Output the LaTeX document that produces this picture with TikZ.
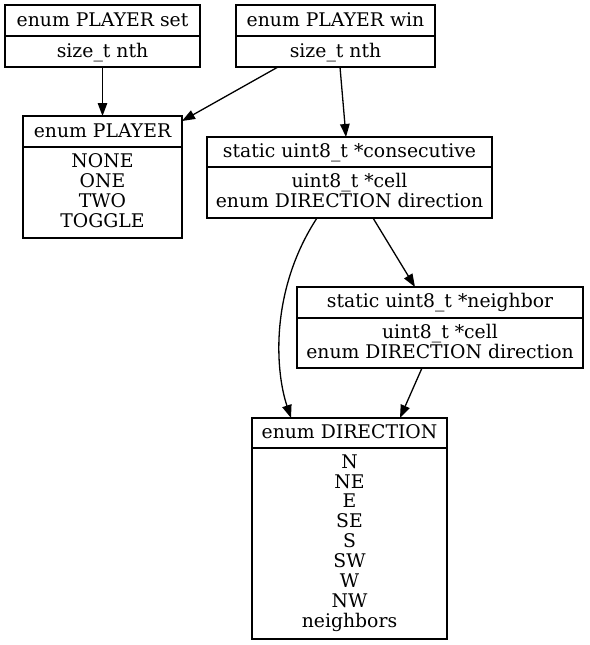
\documentclass[tikz,border=0pt]{standalone}
\usepackage{fontspec}
\setmainfont{DejaVu Serif}
\usetikzlibrary{arrows.meta}
\newcommand{\lns}[1]{\begin{tabular}[t]{@{}c@{}}#1\end{tabular}}
\begin{document}
\begin{tikzpicture}[x=1pt,y=-1pt,
  box/.style={draw=black,line width=1.3pt,inner sep=0pt,outer sep=0pt},
  txt/.style={anchor=base,inner sep=0pt,outer sep=0pt,font=\fontsize{18.8}{19.8}\selectfont},
  arr/.style={draw=black,line width=1.3pt,-{Triangle[length=13pt,width=9.5pt]}}]
\useasboundingbox (0,0) rectangle (589,645);
% boxes
\node[box,minimum width=195pt,minimum height=62pt] (A) at (102.5,36) {};
\node[box,minimum width=199pt,minimum height=62pt] (B) at (335.5,36) {};
\node[box,minimum width=159pt,minimum height=122pt] (C) at (102.5,177) {};
\node[box,minimum width=285pt,minimum height=81pt] (D) at (349.5,177.5) {};
\node[box,minimum width=286pt,minimum height=81pt] (E) at (440,327.5) {};
\node[box,minimum width=195pt,minimum height=221pt] (F) at (349.5,528.5) {};
% separators
\draw[line width=1.3pt] (A.west |- 0,36) -- (A.east |- 0,36);
\draw[line width=1.3pt] (B.west |- 0,36) -- (B.east |- 0,36);
\draw[line width=1.3pt] (C.west |- 0,147) -- (C.east |- 0,147);
\draw[line width=1.3pt] (D.west |- 0,167) -- (D.east |- 0,167);
\draw[line width=1.3pt] (E.west |- 0,318) -- (E.east |- 0,318);
\draw[line width=1.3pt] (F.west |- 0,448) -- (F.east |- 0,448);
% texts
\node[txt] (At) at (102.5,27) {enum PLAYER set};
\node[txt] (Ab) at (102.5,57) {size\_t nth};
\node[txt] (Bt) at (335.5,27) {enum PLAYER win};
\node[txt] (Bb) at (335.5,57) {size\_t nth};
\node[txt] (Ct) at (102.5,137) {enum PLAYER};
\node[txt] (Cb) at (102.5,167.7) {\lns{NONE\\ONE\\TWO\\TOGGLE}};
\node[txt] (Dt) at (349.5,157) {static uint8\_t *consecutive};
\node[txt] (Db) at (349.5,187.3) {\lns{uint8\_t *cell\\enum DIRECTION direction}};
\node[txt] (Et) at (440,307.5) {static uint8\_t *neighbor};
\node[txt] (Eb) at (440,338.3) {\lns{uint8\_t *cell\\enum DIRECTION direction}};
\node[txt] (Ft) at (349.5,438) {enum DIRECTION};
\node[txt] (Fb) at (349.5,468.3) {\lns{N\\NE\\E\\SE\\S\\SW\\W\\NW\\neighbors}};
% edges
\draw[arr] (A.south) -- (C.north);
\draw[arr] ([xshift=-57.5pt]B.south) -- ([yshift=-5pt]C.north east);
\draw[arr] ([xshift=4.5pt]B.south) -- ([xshift=-3.5pt]D.north);
\draw[arr] ([xshift=-32.5pt]D.south) .. controls (270,290) and (275,370) .. ([xshift=-58.5pt]F.north);
\draw[arr] ([xshift=23.5pt]D.south) -- ([xshift=-25pt]E.north);
\draw[arr] ([xshift=-18pt]E.south) -- ([xshift=50.5pt]F.north);
\end{tikzpicture}
\end{document}
